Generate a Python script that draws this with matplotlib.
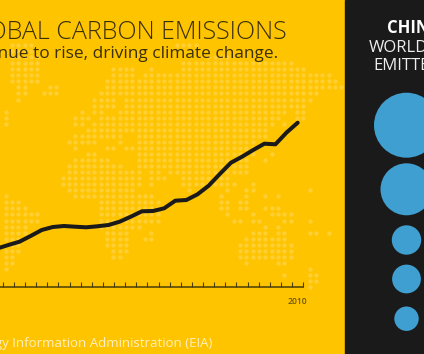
import numpy as np
import matplotlib
matplotlib.use("Agg")
import matplotlib.pyplot as plt

plt.rcParams['font.family'] = ['Open Sans', 'DejaVu Sans']

# emissions line
years = np.arange(1983, 2011)
emissions = [17.82, 18.17, 18.5, 19.07, 19.67, 19.97, 20.07, 20.0, 19.94, 20.04,
             20.17, 20.5, 21.0, 21.54, 21.57, 21.84, 22.6, 22.67, 23.24, 24.1,
             25.27, 26.4, 27.0, 27.67, 28.3, 28.24, 29.42, 30.4]
shown_year = [2010]
shown_year_labels = ['2010']

# right hand bubbles, areas only
bubble_values = [1056, 676, 216, 207, 149]

# dotted world map, row number and runs of columns
map_rows = {
	1: [(2, 5), (28, 31)], 2: [(2, 5)], 3: [(2, 6), (33, 36)], 4: [(2, 6), (29, 44), (45, 46)],
	5: [(2, 6), (18, 21), (24, 24), (29, 48)],
	6: [(2, 6), (18, 21), (23, 52)],
	7: [(2, 6), (17, 53)],
	8: [(3, 4), (8, 9), (17, 54)],
	9: [(3, 4), (7, 9), (16, 50)],
	10: [(3, 3), (15, 18), (20, 49)],
	11: [(15, 18), (20, 48)],
	12: [(1, 1), (13, 13), (15, 16), (19, 45), (47, 48)],
	13: [(1, 1), (12, 14), (16, 44), (47, 48)],
	14: [(1, 1), (12, 13), (15, 43), (45, 45)],
	15: [(14, 42)],
	16: [(12, 19), (22, 42)],
	17: [(11, 15), (19, 19), (22, 40)],
	18: [(12, 12), (17, 18), (20, 40)],
	19: [(14, 15), (22, 40), (43, 43)],
	20: [(12, 17), (22, 39), (42, 42)],
	21: [(11, 19), (22, 39)],
	22: [(11, 22), (24, 25), (27, 39)],
	23: [(10, 22), (24, 26), (29, 36)],
	24: [(10, 22), (24, 24), (29, 37), (40, 40)],
	25: [(11, 21), (30, 30), (36, 36), (39, 40), (49, 49)],
	26: [(1, 1), (12, 24), (35, 35), (39, 39), (42, 42), (44, 44)],
	27: [(1, 3), (16, 25), (35, 36), (38, 39)],
	28: [(1, 4), (16, 25), (35, 36), (38, 39), (42, 44)],
	29: [(1, 6), (16, 25), (36, 36), (40, 40), (43, 46)],
	30: [(1, 6), (16, 25), (37, 38), (40, 41), (45, 46), (49, 49)],
	31: [(1, 4), (16, 22), (42, 42), (44, 44)],
	32: [(1, 4), (17, 20), (24, 24), (40, 42), (44, 45), (49, 50), (52, 52)],
	33: [(1, 3), (17, 20), (23, 24), (39, 45)],
	34: [(1, 3), (17, 20), (38, 46)],
	35: [(1, 3), (18, 20), (38, 46)],
	36: [(1, 2), (18, 19), (38, 46)],
	37: [(1, 2), (39, 39), (44, 45)],
	38: [(1, 1), (49, 49)],
	39: [(45, 45), (49, 50)],
	40: [(49, 50)],
	41: [(49, 49)],
}

YELLOW = '#FFC400'
DOT = '#FFCF33'
DARK = '#1A1A1A'
BLUE = '#3F9FD0'

fig = plt.figure(figsize=(4.24, 3.54), dpi=100, facecolor=YELLOW)

# whole figure in pixels, for the map, the panel and the text
bg = fig.add_axes([0, 0, 1, 1])
bg.set_xlim(0, 424)
bg.set_ylim(354, 0)
bg.axis('off')

dot_x = []
dot_y = []
for row, runs in map_rows.items():
	for first, last in runs:
		for col in range(first, last + 1):
			dot_x.append(-0.66 + 6.33 * col)
			dot_y.append(39 + 6.05 * row)
bg.scatter(dot_x, dot_y, s=10, color=DOT, linewidths=0, zorder=1)

bg.add_patch(plt.Rectangle((344.5, 0), 80, 354, color=DARK, zorder=2))

bubble_y = [125.2, 189.3, 240, 279, 318.7]
sizes = [4 * v * 0.72 ** 2 for v in bubble_values]
bg.scatter([406.5] * 5, bubble_y, s=sizes, color=BLUE, linewidths=0, zorder=3)

bg.text(287, 39, 'GLOBAL CARBON EMISSIONS', ha='right', va='baseline', fontsize=18,
	fontweight='light', color='#3A2F08', zorder=6)
bg.text(278, 58.5, 'Emissions continue to rise, driving climate change.', ha='right', va='baseline',
	fontsize=12.4, color='#3A2F08', zorder=6)
bg.text(212, 346.5, 'Source: U.S. Energy Information Administration (EIA)', ha='right', va='baseline',
	fontsize=9.5, color='#FFEFC0', zorder=6)
bg.text(386.7, 33, 'CHINA', ha='left', va='baseline', fontsize=12, fontweight='bold', color='white', zorder=6)
bg.text(369, 51.6, "WORLD'S", ha='left', va='baseline', fontsize=12, color='#EEEEEE', zorder=6)
bg.text(373.5, 69.5, 'EMITTER', ha='left', va='baseline', fontsize=12, color='#EEEEEE', zorder=6)

# the line chart, 11.13 px per year, baseline at y=286.7
ax = fig.add_axes([0, (354 - 286.7) / 354, 340 / 424, 286.7 / 354])
ax.patch.set_visible(False)
ax.set_xlim(2010 - 297.7 / 11.13, 2010 + 42.3 / 11.13)
ax.set_ylim(14, 14 + 28.67)
ax.plot(years, emissions, color=DARK, lw=2.9, solid_capstyle='round', solid_joinstyle='round', zorder=5)

for side in ['top', 'left', 'right']:
	ax.spines[side].set_visible(False)
ax.spines['bottom'].set_bounds(ax.get_xlim()[0], 2010.5)
ax.spines['bottom'].set_linewidth(1.1)
ax.spines['bottom'].set_color('#4A3B08')
ax.set_yticks([])
ax.set_xticks(shown_year)
ax.set_xticklabels(shown_year_labels, fontsize=6.2, fontweight='semibold', color='#6B5510')
ax.tick_params(axis='x', which='major', length=0, pad=7.5)
ax.set_xticks(np.arange(1983, 2011) + 0.5, minor=True)
ax.tick_params(axis='x', which='minor', direction='in', length=3.4, width=0.8, color='#4A3B08')

fig.savefig('out.png', dpi=100, facecolor=YELLOW)
